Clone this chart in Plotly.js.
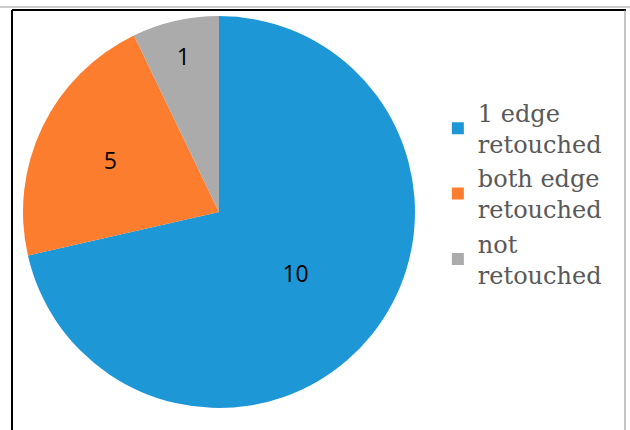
<!DOCTYPE html>
<html><head><meta charset="utf-8">
<script src="https://cdn.plot.ly/plotly-3.0.1.min.js"></script>
<style>html,body{margin:0;padding:0;background:#fff}#chart{width:630px;height:430px}</style>
</head><body><div id="chart"></div>
<script>
// Slice sizes as drawn in the reference (angles 257°, 77°, 26° -> 10 : 3 : 1)
const categories = ["1 edge<br>retouched", "both edge<br>retouched", "not<br>retouched"];
const values = [10, 3, 1];
// Labels as printed on the reference slices
const valueLabels = ["10", "5", "1"];
const colors = ["#1e97d7", "#fc7d2d", "#ababab"];

const trace = {
  type: "pie",
  labels: categories,
  values: values,
  text: valueLabels,
  sort: false,
  direction: "clockwise",
  rotation: 0,
  marker: {colors: colors, line: {width: 0}},
  textinfo: "text",
  texttemplate: "%{text}",
  textposition: "inside",
  insidetextorientation: "horizontal",
  textfont: {family: "'Open Sans', sans-serif", size: 23, color: "#000"},
  domain: {x: [0.0365, 0.6587], y: [0.0512, 0.9628]},
  hoverinfo: "none"
};

const layout = {
  width: 630, height: 430,
  margin: {l: 0, r: 0, t: 0, b: 0},
  paper_bgcolor: "#fff",
  showlegend: true,
  legend: {
    x: 0.695, y: 0.549, xanchor: "left", yanchor: "middle",
    font: {family: "'DejaVu Serif', serif", size: 24, color: "#595959"},
    tracegroupgap: 0
  },
  shapes: [
    {type: "line", xref: "paper", yref: "paper", x0: 0, x1: 1, y0: 1 - 7/430, y1: 1 - 7/430, line: {color: "#999", width: 1}},
    {type: "line", xref: "paper", yref: "paper", x0: 12/630, x1: 626/630, y0: 1 - 10/430, y1: 1 - 10/430, line: {color: "#000", width: 2}},
    {type: "line", xref: "paper", yref: "paper", x0: 12/630, x1: 12/630, y0: 0, y1: 1 - 10/430, line: {color: "#000", width: 2}},
    {type: "line", xref: "paper", yref: "paper", x0: 625/630, x1: 625/630, y0: 0, y1: 1 - 10/430, line: {color: "#888", width: 1}}
  ]
};

Plotly.newPlot("chart", [trace], layout, {staticPlot: true});
</script></body></html>
